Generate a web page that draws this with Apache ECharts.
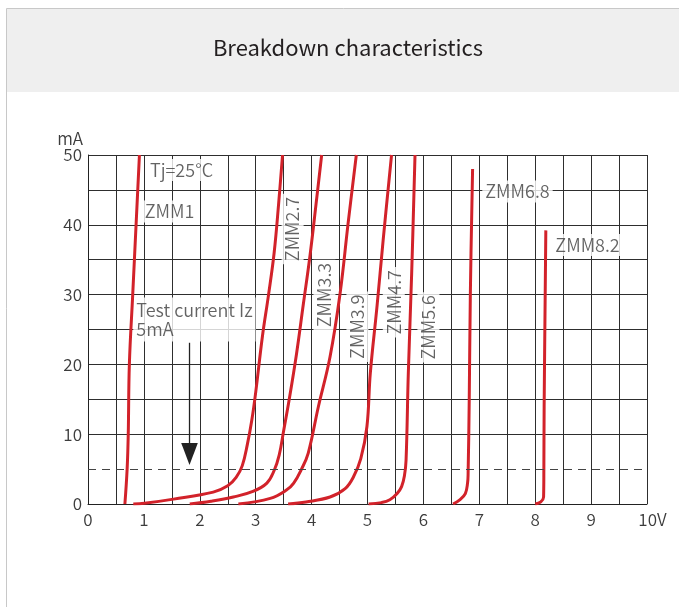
<!DOCTYPE html>
<html><head><meta charset="utf-8">
<script src="https://cdn.jsdelivr.net/npm/echarts@6/dist/echarts.min.js"></script>
<style>html,body{margin:0;padding:0;background:#fff}#c{width:679px;height:607px}</style>
</head><body><div id="c"></div>
<script>
// ---- data (voltage V, current mA) ----
const seriesNames = ['ZMM1','ZMM2.7','ZMM3.3','ZMM3.9','ZMM4.7','ZMM5.6','ZMM6.8','ZMM8.2'];
const zmm1V  = [0.66, 0.70, 0.72, 0.74, 0.80, 0.86, 0.92];
const zmm1I  = [0, 5, 10, 20, 30, 40, 50];
const zmm27V = [0.81, 1.01, 1.53, 2.24, 2.50, 2.65, 2.76, 2.85, 2.93, 3.00, 3.12, 3.23, 3.33, 3.41, 3.48];
const zmm27I = [0, 0.1, 0.7, 1.7, 2.6, 3.8, 5.5, 8.5, 12, 16, 24, 30, 36, 43, 50];
const zmm33V = [1.82, 2.20, 2.60, 2.95, 3.20, 3.33, 3.42, 3.50, 3.60, 3.73, 3.85, 3.97, 4.08, 4.18];
const zmm33I = [0, 0.4, 1.0, 1.8, 3.0, 4.8, 7, 10.5, 15, 21.5, 28.5, 35.5, 43, 50];
const zmm39V = [2.69, 3.26, 3.55, 3.68, 3.82, 3.94, 4.12, 4.33, 4.51, 4.65, 4.80];
const zmm39I = [0, 0.8, 2.0, 3.0, 5.0, 7.3, 13.9, 21.1, 30.2, 40, 50];
const zmm47V = [3.58, 3.90, 4.33, 4.60, 4.75, 4.88, 4.99, 5.05, 5.17, 5.28, 5.43];
const zmm47I = [0, 0.3, 1.0, 2.2, 3.9, 6.5, 11.1, 18.7, 28.3, 37.8, 50];
const zmm56V = [5.02, 5.25, 5.40, 5.53, 5.61, 5.66, 5.69, 5.73, 5.79, 5.85];
const zmm56I = [0, 0.2, 0.6, 1.5, 2.5, 4.0, 6.3, 18.7, 33, 50];
const zmm68V = [6.53, 6.65, 6.75, 6.79, 6.80, 6.82, 6.84, 6.88];
const zmm68I = [0, 0.6, 1.5, 3.0, 4.4, 15, 30.2, 48];
const zmm82V = [8.00, 8.10, 8.15, 8.155, 8.16, 8.19];
const zmm82I = [0, 0.3, 1.0, 5, 13.9, 39.2];
const testCurrent = 5; // mA
const xTickLabels = ['0','1','2','3','4','5','6','7','8','9','10V'];
const yTickLabels = ['0','10','20','30','40','50'];

const curvesV = [zmm1V, zmm27V, zmm33V, zmm39V, zmm47V, zmm56V, zmm68V, zmm82V];
const curvesI = [zmm1I, zmm27I, zmm33I, zmm39I, zmm47I, zmm56I, zmm68I, zmm82I];

const FONT = '"Noto Sans CJK SC", "Noto Sans", sans-serif';
const RED = '#d2222a';
const GRID = '#2e2e2e';
const TXT = '#3c3c3c';
const FW = 350;

const ySplitColors = [];
for (let i = 0; i <= 10; i++) ySplitColors.push(i === 1 ? 'rgba(0,0,0,0)' : GRID);

const lineSeries = seriesNames.map((n, k) => ({
  name: n, type: 'line', symbol: 'none', smooth: 0.4, z: 4,
  lineStyle: { color: RED, width: 3 },
  data: curvesV[k].map((v, i) => [v, curvesI[k][i]]),
  markLine: k === 0 ? {
    silent: true, symbol: ['none', 'none'], label: { show: false },
    lineStyle: { type: [8, 6], color: '#444', width: 1 },
    data: [{ yAxis: testCurrent }]
  } : undefined
}));

const labelStyle = { show: true, position: 'inside', formatter: '{b}', color: TXT, fontSize: 18,
  fontFamily: FONT, fontWeight: FW, backgroundColor: '#fff', padding: [2, 3] };

const labelSeries = {
  type: 'scatter', symbolSize: 0, z: 3, silent: true,
  label: labelStyle,
  data: [
    { name: 'Tj=25°C', value: [1.673, 47.85] },
    { name: 'ZMM1', value: [1.458, 41.9] },
    { name: 'ZMM2.7', value: [3.66, 39.4], label: { rotate: 90 } },
    { name: 'ZMM3.3', value: [4.23, 29.94], label: { rotate: 90 } },
    { name: 'ZMM3.9', value: [4.82, 25.4], label: { rotate: 90 } },
    { name: 'ZMM4.7', value: [5.47, 28.9], label: { rotate: 90 } },
    { name: 'ZMM5.6', value: [6.09, 25.3], label: { rotate: 90 } },
    { name: 'ZMM6.8', value: [7.683, 44.77] },
    { name: 'ZMM8.2', value: [8.936, 37.1] },
    { name: 'Test current Iz\n' + testCurrent + 'mA', value: [0.81, 29.6],
      label: { align: 'left', verticalAlign: 'top', lineHeight: 19, padding: [3, 3, 3, 3] } }
  ]
};

const arrowSeries = {
  type: 'custom', z: 5, silent: true,
  data: [[1.816, 23.1, 5.6]],
  renderItem(params, api) {
    const a = api.coord([api.value(0), api.value(1)]);
    const b = api.coord([api.value(0), api.value(2)]);
    return { type: 'group', children: [
      { type: 'line', shape: { x1: a[0], y1: a[1], x2: b[0], y2: b[1] - 20 }, style: { stroke: '#222', lineWidth: 1.3 } },
      { type: 'polygon', shape: { points: [[b[0] - 8.3, b[1] - 22], [b[0] + 8.3, b[1] - 22], [b[0], b[1]]] }, style: { fill: '#222' } }
    ]};
  }
};

const chart = echarts.init(document.getElementById('c'));
chart.setOption({
  animation: false,
  backgroundColor: '#fff',
  graphic: [
    { type: 'rect', z: -10, shape: { x: 6.5, y: 8.5, width: 700, height: 700 }, style: { fill: '#fff', stroke: '#c8c8c8', lineWidth: 1 } },
    { type: 'rect', z: -9, shape: { x: 7, y: 9, width: 680, height: 83 }, style: { fill: '#efefef' } }
  ],
  title: { text: 'Breakdown characteristics', left: 348, textAlign: 'center', top: 37, padding: 0,
    textStyle: { fontSize: 22, fontWeight: 'normal', color: '#231f20', fontFamily: FONT } },
  grid: { left: 88, right: 32, top: 155, bottom: 103, containLabel: false },
  xAxis: {
    type: 'value', min: 0, max: 10, interval: 0.5,
    axisLine: { lineStyle: { color: '#222', width: 1 } },
    axisTick: { show: false },
    splitLine: { show: true, lineStyle: { color: GRID, width: 1 } },
    axisLabel: { color: TXT, fontSize: 17, fontFamily: FONT, fontWeight: FW, margin: 7,
      formatter: v => { const r = Math.round(v); if (Math.abs(v - r) > 1e-6) return '';
        return r === 10 ? '{e|' + xTickLabels[r] + '}' : xTickLabels[r]; },
      rich: { e: { padding: [0, 0, 0, 11], color: TXT, fontSize: 17, fontFamily: FONT, fontWeight: FW } } }
  },
  yAxis: {
    type: 'value', min: 0, max: 50, interval: 5,
    name: 'mA', nameLocation: 'end', nameGap: 5,
    nameTextStyle: { align: 'right', padding: [0, 5, 0, 0], color: TXT, fontSize: 17, fontFamily: FONT, fontWeight: FW },
    axisLine: { show: true, lineStyle: { color: '#222', width: 1 } },
    axisTick: { show: false },
    splitLine: { show: true, lineStyle: { color: ySplitColors, width: 1 } },
    axisLabel: { color: TXT, fontSize: 17, fontFamily: FONT, fontWeight: FW, margin: 6,
      formatter: v => { const r = Math.round(v); return (r % 10 === 0) ? yTickLabels[r / 10] : ''; } }
  },
  series: [...lineSeries, labelSeries, arrowSeries]
});
</script>
</body></html>
